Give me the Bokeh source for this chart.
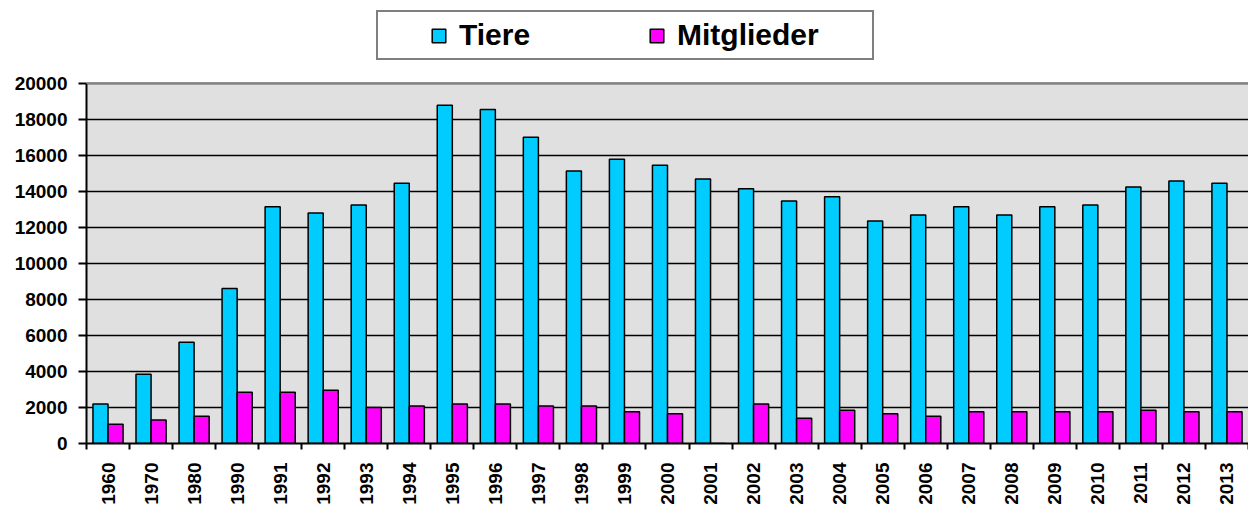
import numpy as np
from bokeh.plotting import figure
from bokeh.models import (Range1d, FixedTicker, Legend, LegendItem, ColumnDataSource,
                          BoxAnnotation, Span)
from bokeh.transform import dodge
from bokeh.embed import file_html
from bokeh.resources import INLINE

years = ["1960", "1970", "1980", "1990", "1991", "1992", "1993", "1994", "1995",
         "1996", "1997", "1998", "1999", "2000", "2001", "2002", "2003", "2004",
         "2005", "2006", "2007", "2008", "2009", "2010", "2011", "2012", "2013"]
tiere = [2200, 3850, 5620, 8600, 13150, 12800, 13250, 14450, 18780,
         18550, 17000, 15130, 15780, 15450, 14680, 14150, 13460, 13700,
         12350, 12690, 13150, 12690, 13150, 13240, 14240, 14570, 14450]
mitglieder = [1070, 1300, 1520, 2850, 2850, 2960, 2000, 2080, 2200,
              2200, 2080, 2080, 1760, 1650, 0, 2200, 1400, 1850,
              1650, 1520, 1760, 1760, 1760, 1760, 1850, 1760, 1760]
y_ticks = [0, 2000, 4000, 6000, 8000, 10000, 12000, 14000, 16000, 18000, 20000]

FONT = "Liberation Sans"
n = len(years)
idx = list(range(n))
src = ColumnDataSource(dict(x=idx, tiere=tiere, mitglieder=mitglieder))

# geometry: plot area 0..20000 spans pixel rows 83..444; frame extends to top of figure
W, H = 1248, 507
TOP_PX, BOT_PX = 83, 444
y_max = y_ticks[-1]
y_end = y_max * BOT_PX / (BOT_PX - TOP_PX)

p = figure(width=W, height=H, output_backend="svg", toolbar_location=None,
           x_range=Range1d(-0.5, n - 0.5), y_range=Range1d(0, y_end),
           min_border_left=86, min_border_right=0, min_border_top=0,
           min_border_bottom=H - BOT_PX)
p.background_fill_color = "white"
p.border_fill_color = "white"
p.outline_line_color = None

# grey plot area below the top value, drawn beneath the grid lines
plot_area = BoxAnnotation(top=y_max, fill_color="#E0E0E0", fill_alpha=1,
                          line_color=None, level="underlay")
p.center = [plot_area] + list(p.center)
p.add_layout(Span(location=y_max, dimension="width", line_color="#808080",
                  line_width=2))

r1 = p.vbar(x=dodge("x", -0.175, range=p.x_range), top="tiere", width=0.35,
            source=src, fill_color="#00CCFF", line_color="black", line_width=1.5)
r2 = p.vbar(x=dodge("x", 0.175, range=p.x_range), top="mitglieder", width=0.35,
            source=src, fill_color="#FF00FF", line_color="black", line_width=1.5)

# y axis
p.yaxis.ticker = FixedTicker(ticks=y_ticks)
p.yaxis.bounds = (0, y_max)
p.yaxis.major_label_text_font = FONT
p.yaxis.major_label_text_font_style = "bold"
p.yaxis.major_label_text_font_size = "19px"
p.yaxis.major_label_text_color = "black"
p.yaxis.major_tick_out = 8
p.yaxis.major_tick_in = 0
p.yaxis.major_tick_line_width = 2
p.yaxis.major_label_standoff = 11
p.yaxis.minor_tick_line_color = None
p.yaxis.axis_line_width = 2
p.yaxis.axis_line_color = "black"

# x axis: labels at centres, tick marks at boundaries
p.xaxis.ticker = FixedTicker(ticks=idx, minor_ticks=[i - 0.5 for i in range(n + 1)])
p.xaxis.major_label_overrides = {i: y for i, y in zip(idx, years)}
p.xaxis.major_label_orientation = np.pi / 2
p.xaxis.major_label_text_font = FONT
p.xaxis.major_label_text_font_style = "bold"
p.xaxis.major_label_text_font_size = "19px"
p.xaxis.major_label_text_color = "black"
p.xaxis.major_tick_out = 0
p.xaxis.major_tick_in = 0
p.xaxis.minor_tick_out = 6
p.xaxis.minor_tick_in = 0
p.xaxis.minor_tick_line_width = 2
p.xaxis.minor_tick_line_color = "black"
p.xaxis.major_label_standoff = 13
p.xaxis.axis_line_width = 2
p.xaxis.axis_line_color = "black"

p.xgrid.grid_line_color = None
p.ygrid.grid_line_color = "black"
p.ygrid.grid_line_width = 1.5

legend = Legend(items=[LegendItem(label="Tiere", renderers=[r1]),
                       LegendItem(label="Mitglieder", renderers=[r2])],
                orientation="horizontal", location=(290, 383),
                title=" ", title_location="left", title_text_font_size="30px",
                title_standoff=12,
                label_text_font=FONT, label_text_font_style="bold",
                label_text_font_size="30px", label_text_color="black",
                label_width=189, spacing=0, label_standoff=12,
                glyph_width=17, glyph_height=17, padding=6, margin=0,
                border_line_color="black", border_line_width=2,
                background_fill_color="white", background_fill_alpha=1)
p.add_layout(legend, "center")

open("out.html", "w").write(file_html(p, INLINE))
